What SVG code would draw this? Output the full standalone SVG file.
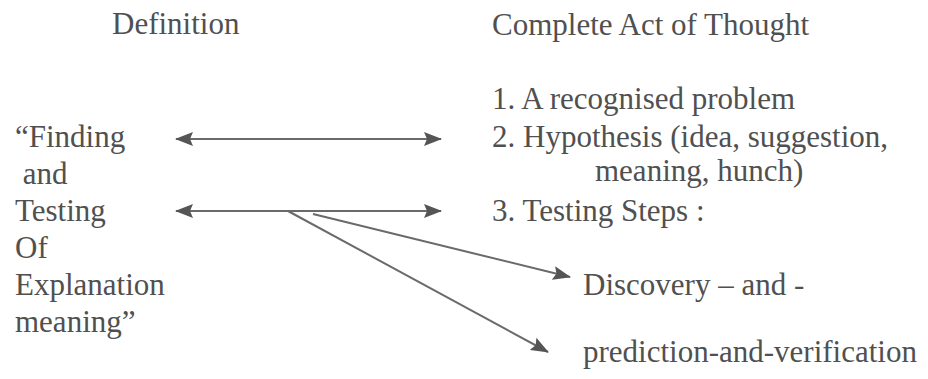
<svg xmlns="http://www.w3.org/2000/svg" width="928" height="379" viewBox="0 0 928 379">
<style>
text{font-family:"Liberation Serif","Times New Roman","DejaVu Serif",serif;font-size:31px;fill:#505050}
.c{stroke:#6a6a6a;stroke-width:2;fill:none}
</style>
<defs>
<marker id="ah" markerUnits="userSpaceOnUse" markerWidth="18" markerHeight="14" viewBox="0 0 18 14" refX="17" refY="7" orient="auto-start-reverse">
<path d="M0,0 L18,7 L0,14 L3,7 Z" fill="#555"/>
</marker>
</defs>
<rect width="928" height="379" fill="#fff"/>
<g id="definition-header"><text x="112" y="34">Definition</text></g>
<g id="act-header"><text x="492" y="35">Complete Act of Thought</text></g>
<g id="definition">
<text x="15" y="147">“Finding</text>
<text x="15" y="184" xml:space="preserve"> and</text>
<text x="15" y="221">Testing</text>
<text x="15" y="258">Of</text>
<text x="15" y="295">Explanation</text>
<text x="15" y="332">meaning”</text>
</g>
<g id="steps">
<text x="492" y="109">1. A recognised problem</text>
<text x="492" y="147">2. Hypothesis (idea, suggestion,</text>
<text x="595" y="181">meaning, hunch)</text>
<text x="492" y="221">3. Testing Steps :</text>
</g>
<g id="discovery"><text x="583" y="295">Discovery – and -</text></g>
<g id="prediction"><text x="583" y="362">prediction-and-verification</text></g>
<g id="connectors">
<line class="c" x1="176" y1="139" x2="441" y2="139" marker-start="url(#ah)" marker-end="url(#ah)"/>
<line class="c" x1="176" y1="211" x2="441" y2="211" marker-start="url(#ah)" marker-end="url(#ah)"/>
<line class="c" x1="313" y1="214" x2="570" y2="277" marker-end="url(#ah)"/>
<line class="c" x1="288" y1="211" x2="548" y2="352" marker-end="url(#ah)"/>
</g>
</svg>
